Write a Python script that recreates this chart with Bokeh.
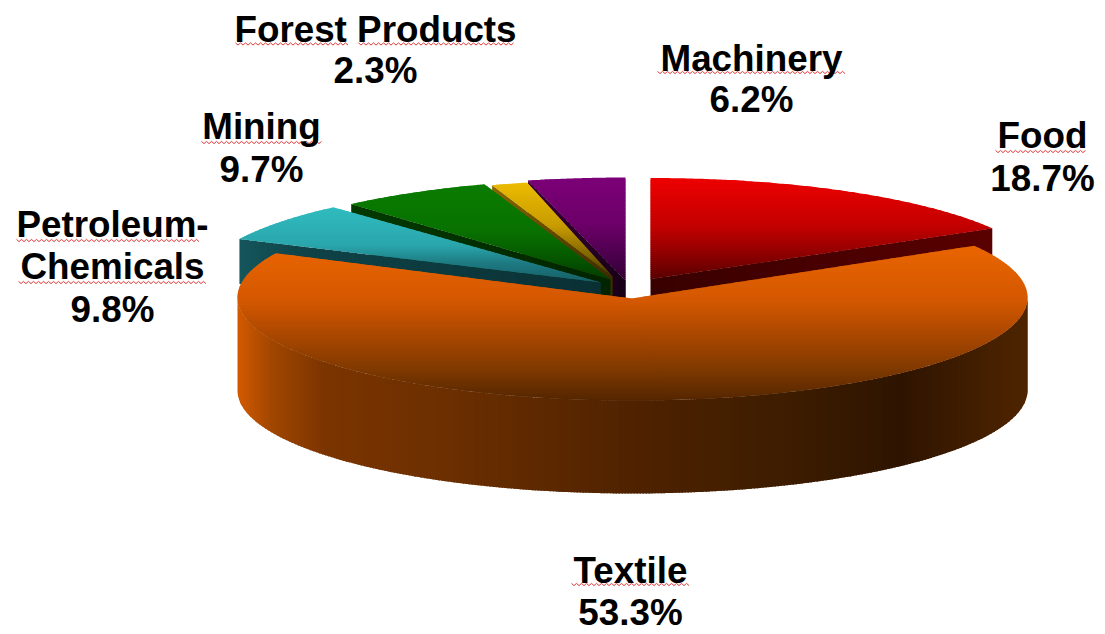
import math
import numpy as np
from bokeh.plotting import figure
from bokeh.models import ColumnDataSource, Range1d
from bokeh.core.properties import value
from bokeh.embed import file_html
from bokeh.resources import INLINE

# ---- data ----
categories = ["Food", "Textile", "Petroleum-Chemicals", "Mining", "Forest Products", "Machinery"]
shares = [18.7, 53.3, 9.8, 9.7, 2.3, 6.2]

# ---- layout / style (reference pixels) ----
RIGHT_K, LEFT_K = 0.89, 0.64       # perspective squeeze of the far part of the pie
style = {
    "Food": dict(c=(650, 278.5), a=(650, 278.5), rx=395, ry=101, h=45,
                 top=[(177, "#EE0000"), (225, "#C40000"), (250, "#960000"), (280, "#560000")],
                 wall=[(650, "#380000"), (992, "#5A0000")]),
    "Textile": dict(c=(632, 297), a=(632, 298), rx=395, ry=103, h=93,
                    top=[(248, "#E86400"), (300, "#D45800"), (333, "#AC4800"), (367, "#823A00"), (400, "#542600")],
                    wall=[]),
    "Petroleum-Chemicals": dict(c=(600, 282), a=(600, 282), rx=400, ry=101, h=45,
                    top=[(207, "#30BCC0"), (245, "#2AA6AC"), (262, "#1E7C84"), (285, "#155A60")],
                    wall=[(240, "#14565C"), (300, "#0F4348"), (600, "#0A3034")]),
    "Mining": dict(c=(618, 278), a=(610, 279), rx=400, ry=100, h=45,
                   top=[(183, "#0A7C00"), (230, "#087200"), (255, "#065A00"), (280, "#043C00")],
                   wall=[(347, "#033A00"), (610, "#022400")]),
    "Forest Products": dict(c=(624, 278), a=(612, 276), rx=395, ry=99, h=45,
                   top=[(180, "#EDBC00"), (225, "#C89C00"), (255, "#806400"), (280, "#3A3000")],
                   wall=[(490, "#8A6800"), (610, "#3C2C00")]),
    "Machinery": dict(c=(625, 278), a=(625, 280), rx=395, ry=101, h=45,
                   top=[(177, "#7C0078"), (225, "#6C0068"), (260, "#460048"), (297, "#200020")],
                   wall=[(529, "#3A0038"), (625, "#180018")]),
}
draw_order = ["Machinery", "Forest Products", "Mining", "Petroleum-Chemicals", "Food", "Textile"]
side_stops = [(237, "#D25A00"), (272, "#A04600"), (325, "#7A3400"), (430, "#6E3000"), (640, "#4E2200"),
              (796, "#3C1C00"), (900, "#2E1400"), (1005, "#4A2200"), (1027, "#4E2400")]

labels = [
    (["Food"], 0, 1042, [147], 190),
    (["Textile"], 1, 630, [582], 624),
    (["Petroleum-", "Chemicals"], 2, 112, [236, 278], 321),
    (["Mining"], 3, 261, [138], 181),
    (["Forest Products"], 4, 375, [41], 82),
    (["Machinery"], 5, 751, [70], 111),
]
squiggles = [(995, 1085, 151), (571, 690, 584), (16, 199, 240), (18, 206, 282), (201, 321, 142),
             (235, 349, 43.5), (358, 515, 43.5), (657, 846, 72)]
TEXT_SHIFT = -12


def rgb(h):
    return [int(h[i:i + 2], 16) for i in (1, 3, 5)]


def shade(stops, v):
    ps = [s[0] for s in stops]
    cs = np.array([rgb(s[1]) for s in stops], dtype=float)
    return "#%02x%02x%02x" % tuple(int(round(np.interp(v, ps, cs[:, i]))) for i in range(3))


def clip(poly, axis, bound, keep_above):
    out = []
    n = len(poly)
    inside = (lambda p: p[axis] >= bound) if keep_above else (lambda p: p[axis] <= bound)
    for i in range(n):
        p, q = poly[i], poly[(i + 1) % n]
        ip, iq = inside(p), inside(q)
        if ip:
            out.append(p)
        if ip != iq:
            f = (bound - p[axis]) / (q[axis] - p[axis])
            out.append((p[0] + f * (q[0] - p[0]), p[1] + f * (q[1] - p[1])))
    return out


xs, ys, cols = [], [], []


def add_bands(poly, axis, stops, step=2.0, overlap=1.5):
    lo = min(p[axis] for p in poly)
    hi = max(p[axis] for p in poly)
    v = lo
    while v < hi:
        part = clip(clip(poly, axis, v, True), axis, v + step + overlap, False)
        if len(part) >= 3:
            xs.append([p[0] for p in part])
            ys.append([p[1] for p in part])
            cols.append(shade(stops, v + step / 2))
        v += step


def rim(s, t_deg):
    t = math.radians(t_deg)
    return (s["c"][0] + s["rx"] * math.sin(t), s["c"][1] - s["ry"] * math.cos(t))


# screen angles (clockwise from the top of the ellipse), from the shares
total = 100.0
spans = {}
spans[categories[0]] = (0.0, RIGHT_K * 360 * shares[0] / total)
ccw = 0.0
for name, sh in zip(reversed(categories[2:]), reversed(shares[2:])):
    start = -LEFT_K * ccw
    ccw += 360 * sh / total
    spans[name] = (-LEFT_K * ccw, start)
spans[categories[1]] = (spans[categories[0]][1], 360 + spans[categories[2]][0])

for name in draw_order:
    s = style[name]
    t0, t1 = spans[name]
    if name == "Textile":
        side_ts = np.linspace(90, 270, 240)
        upper = [rim(s, t) for t in side_ts]
        lower = [(p[0], p[1] + s["h"]) for p in upper]
        add_bands(upper + lower[::-1], 0, side_stops, 3.0)
        # two overlapping convex parts, so that band clipping stays clean and no seam shows
        top_bands = [np.linspace(t0, 185, 120), np.linspace(175, t1, 120)]
        for part_ts in top_bands:
            add_bands([s["a"]] + [rim(s, t) for t in part_ts], 1, s["top"])
    else:
        arc = [rim(s, t) for t in np.linspace(t0, t1, 160)]
        edge = arc[-1] if name == "Food" else arc[0]
        ax, ay = s["a"]
        wall = [(ax, ay), edge, (edge[0], edge[1] + s["h"]), (ax, ay + s["h"])]
        add_bands(wall, 0, s["wall"], 4.0)
        add_bands([s["a"]] + arc, 1, s["top"])

p = figure(width=1105, height=634, x_range=Range1d(0, 1105), y_range=Range1d(634, 0),
           x_axis_type=None, y_axis_type=None, toolbar_location=None, output_backend="svg",
           min_border=0, outline_line_color=None, background_fill_color="white",
           border_fill_color="white")
p.grid.visible = False

p.patches("xs", "ys", source=ColumnDataSource(dict(xs=xs, ys=ys, c=cols)),
          fill_color="c", line_color=None)

# spell-check squiggles
wx, wy = [], []
for x0, x1, y in squiggles:
    n = int((x1 - x0) / 2.5)
    wx.append([x0 + i * 2.5 for i in range(n + 1)])
    wy.append([y + (1.1 if i % 2 else -1.1) for i in range(n + 1)])
p.multi_line(wx, wy, line_color="#E23A3A", line_width=1)

tx, ty, tt = [], [], []
for lines, idx, x, bases, pct_base in labels:
    for line, b in zip(lines, bases):
        tx.append(x); ty.append(b); tt.append(line)
    tx.append(x); ty.append(pct_base); tt.append(f"{shares[idx]}%")
p.text(tx, ty, text=tt, text_font=value("Liberation Sans"), text_font_style="bold",
       text_font_size="36.8px", text_align="center", text_baseline="alphabetic", text_color="black",
       y_offset=TEXT_SHIFT)

open("out.html", "w").write(file_html(p, INLINE))
